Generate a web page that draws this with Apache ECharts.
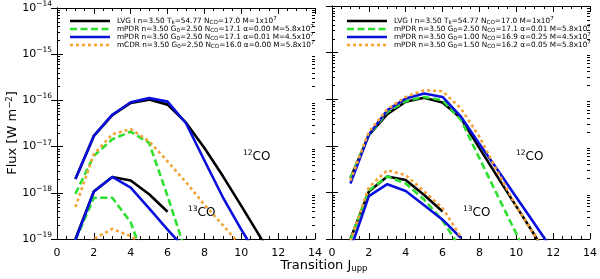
<!DOCTYPE html>
<html><head><meta charset="utf-8">
<script src="https://cdn.jsdelivr.net/npm/echarts@6/dist/echarts.min.js"></script>
<style>html,body{margin:0;padding:0;background:#fff}#c{width:600px;height:279px}</style>
</head><body><div id="c"></div>
<script>
// ---- data ----
const J = [1,2,3,4,5,6,7,8,9,10,11,12];
const xTicks = [0,2,4,6,8,10,12,14];
const yTickExp = [-19,-18,-17,-16,-15,-14];

// left panel, 12CO
const L_lvg12  = [2.0e-18,1.7e-17,4.8e-17,8.8e-17,1.04e-16,8.1e-17,3.3e-17,9.3e-18,2.3e-18,5.2e-19,1.15e-19,2.5e-20];
const L_pdr0_12= [9.5e-19,6.3e-18,1.44e-17,2.1e-17,1.2e-17,8.5e-19,5.0e-20];
const L_pdr1_12= [2.0e-18,1.7e-17,4.9e-17,9.1e-17,1.12e-16,9.4e-17,3.2e-17,5.0e-18,8.0e-19,1.6e-19,3.6e-20];
const L_cdr12  = [4.9e-19,6.9e-18,1.85e-17,2.4e-17,1.3e-17,4.8e-18,1.7e-18,5.5e-19,2.0e-19,7.0e-20];
// left panel, 13CO
const L_lvg13  = [1.0e-19,1.07e-18,2.2e-18,1.85e-18,9.3e-19,3.9e-19];
const L_pdr0_13= [9.5e-20,7.8e-19,7.8e-19,2.3e-19,1.8e-20];
const L_pdr1_13= [9.5e-20,1.07e-18,2.2e-18,1.3e-18,4.6e-19,1.6e-19,5.8e-20];
const L_cdr13  = [5.0e-20,1.0e-19,1.65e-19,1.15e-19,6.5e-20];

// right panel, 12CO
const R_lvg12  = [2.0e-18,1.7e-17,4.8e-17,8.8e-17,1.07e-16,8.5e-17,3.9e-17,8.9e-18,2.1e-18,5.0e-19,1.2e-19,2.5e-20];
const R_pdrA_12= [2.0e-18,1.7e-17,5.3e-17,9.1e-17,1.12e-16,9.5e-17,3.6e-17,5.4e-18,8.3e-19,1.3e-19,2.0e-20];
const R_pdrB_12= [1.55e-18,1.74e-17,5.8e-17,1.03e-16,1.32e-16,1.12e-16,4.2e-17,1.1e-17,3.0e-18,7.9e-19,2.1e-19,5.5e-20];
const R_pdrC_12= [1.8e-18,2.0e-17,6.1e-17,1.12e-16,1.56e-16,1.48e-16,6.3e-17,1.56e-17,2.7e-18,5.0e-19,1.2e-19,2.5e-20];
// right panel, 13CO
const R_lvg13  = [1.0e-19,1.05e-18,2.2e-18,1.85e-18,8.8e-19,3.9e-19];
const R_pdrA_13= [9.5e-20,1.1e-18,2.2e-18,1.55e-18,7.0e-19,2.5e-19,6.0e-20];
const R_pdrB_13= [6.0e-20,8.3e-19,1.5e-18,1.07e-18,5.3e-19,2.6e-19,1.05e-19];
const R_pdrC_13= [9.0e-20,1.3e-18,3.0e-18,2.35e-18,1.05e-18,4.6e-19,1.1e-19];

const leftLegend = [
  'LVG I n=3.50 T{sb|k}=54.77 N{sb|CO}=17.0 M=1x10{sp|7}',
  'mPDR n=3.50 G{sb|0}=2.50 N{sb|CO}=17.1 α=0.00 M=5.8x10{sp|7}',
  'mPDR n=3.50 G{sb|0}=2.50 N{sb|CO}=17.1 α=0.01 M=4.5x10{sp|7}',
  'mCDR n=3.50 G{sb|0}=2.50 N{sb|CO}=16.0 α=0.00 M=5.8x10{sp|7}'
];
const rightLegend = [
  'LVG I n=3.50 T{sb|k}=54.77 N{sb|CO}=17.0 M=1x10{sp|7}',
  'mPDR n=3.50 G{sb|0}=2.50 N{sb|CO}=17.1 α=0.01 M=5.8x10{sp|7}',
  'mPDR n=3.50 G{sb|0}=1.00 N{sb|CO}=16.9 α=0.25 M=4.5x10{sp|7}',
  'mPDR n=3.50 G{sb|0}=1.50 N{sb|CO}=16.2 α=0.05 M=5.8x10{sp|7}'
];

// ---- styles ----
const FONT = 'DejaVu Sans, Verdana, sans-serif';
const styles = [
  {color:'#000000', type:'solid'},
  {color:'#2ee02e', type:[7,3.5]},
  {color:'#0a10dc', type:'solid'},
  {color:'#f5a236', type:[3,3]}
];
const LW = 2.6;

const minorVals = [];
for (let e=-19; e<-14; e++) for (let m=2; m<=9; m++) minorVals.push(m*Math.pow(10,e));

function pairs(arr){ return arr.map((v,i)=>[J[i], v]); }
function lineSeries(arr, st, gi){
  return {type:'line', xAxisIndex:gi*2, yAxisIndex:gi*2, data:pairs(arr), symbol:'none',
    clip:true, silent:true, animation:false,
    lineStyle:{color:st.color, width:LW, type:st.type, cap:'butt', join:'round'}};
}
function minorSeries(gi){
  return {type:'custom', xAxisIndex:gi*2, yAxisIndex:gi*2, data:minorVals.map(v=>[0,v]), silent:true, clip:false,
    animation:false,
    renderItem:function(params, api){
      const v = api.value(1);
      const a = api.coord([0, v]), b = api.coord([14, v]);
      const y = Math.round(a[1])+0.5;
      return {type:'group', children:[
        {type:'line', shape:{x1:a[0], y1:y, x2:a[0]+3, y2:y}, style:{stroke:'#000', lineWidth:1}},
        {type:'line', shape:{x1:b[0]-3, y1:y, x2:b[0], y2:y}, style:{stroke:'#000', lineWidth:1}}
      ]};
    }};
}

const grids = [
  {left:57, top:6, width:258, height:233},
  {left:332, top:6, width:260, height:233}
];
const xAxes = [], yAxes = [];
[0,1].forEach(gi=>{
  const base = {type:'value', gridIndex:gi, min:0, max:14, interval:2,
    axisLine:{show:true, onZero:false, lineStyle:{color:'#000', width:1}},
    axisTick:{show:true, inside:true, length:6, lineStyle:{color:'#000'}},
    minorTick:{show:true, splitNumber:4, length:3, lineStyle:{color:'#000'}},
    splitLine:{show:false}};
  xAxes.push(Object.assign({}, base, {position:'bottom',
    axisLabel:{show:true, color:'#000', fontSize:11, fontFamily:FONT, margin:9,
      formatter:function(v){ return xTicks.indexOf(v)>=0 ? String(v) : ''; }}}));
  xAxes.push(Object.assign({}, base, {position:'top', axisLabel:{show:false}}));
  const ybase = {type:'log', logBase:10, gridIndex:gi, min:1e-19, max:1e-14,
    axisLine:{show:true, lineStyle:{color:'#000', width:1}},
    axisTick:{show:true, inside:true, length:6, lineStyle:{color:'#000'}},
    minorTick:{show:false}, splitLine:{show:false}};
  yAxes.push(Object.assign({}, ybase, {position:'left',
    axisLabel:{show: gi===0, color:'#000', fontSize:11, fontFamily:FONT, margin:5,
      formatter:function(v){ const e=Math.round(Math.log10(v)); return yTickExp.indexOf(e)>=0 ? '10{sp|−'+Math.abs(e)+'}' : ''; },
      rich:{sp:{fontSize:7.5, fontFamily:FONT, color:'#000', verticalAlign:'top', padding:[0,0,8,0]}}}}));
  yAxes.push(Object.assign({}, ybase, {position:'right', axisLabel:{show:false}}));
});

const series = [
  lineSeries(L_lvg12, styles[0], 0), lineSeries(L_lvg13, styles[0], 0),
  lineSeries(L_pdr0_12, styles[1], 0), lineSeries(L_pdr0_13, styles[1], 0),
  lineSeries(L_pdr1_12, styles[2], 0), lineSeries(L_pdr1_13, styles[2], 0),
  lineSeries(L_cdr12, styles[3], 0), lineSeries(L_cdr13, styles[3], 0),
  lineSeries(R_lvg12, styles[0], 1), lineSeries(R_lvg13, styles[0], 1),
  lineSeries(R_pdrA_12, styles[1], 1), lineSeries(R_pdrA_13, styles[1], 1),
  lineSeries(R_pdrB_12, styles[2], 1), lineSeries(R_pdrB_13, styles[2], 1),
  lineSeries(R_pdrC_12, styles[3], 1), lineSeries(R_pdrC_13, styles[3], 1),
  minorSeries(0), minorSeries(1)
];

const richLegend = {
  sb:{fontSize:5.6, fontFamily:FONT, color:'#000', verticalAlign:'bottom', padding:[3,0,0,0]},
  sp:{fontSize:5.6, fontFamily:FONT, color:'#000', verticalAlign:'top', padding:[0,0,4,0]}
};
const graphics = [];
function addLegend(x0, texts){
  const rows = [21,29,37,45];
  rows.forEach((y,i)=>{
    graphics.push({type:'line', silent:true, shape:{x1:x0, y1:y, x2:x0+40, y2:y},
      style:{stroke:styles[i].color, lineWidth:LW, lineDash: styles[i].type==='solid'?null:styles[i].type}});
    graphics.push({type:'text', silent:true, x:x0+47, y:y, style:{text:texts[i], fontSize:7.3, fontFamily:FONT, fill:'#000',
      verticalAlign:'middle', align:'left', rich:richLegend}});
  });
}
addLegend(70, leftLegend);
addLegend(347, rightLegend);

const richLbl = {sp:{fontSize:7.5, fontFamily:FONT, fill:'#000', verticalAlign:'top', padding:[0,0,7,0]}};
function isoLabel(x, y, txt){
  graphics.push({type:'text', silent:true, x:x, y:y, style:{text:txt, fontSize:12, fontFamily:FONT, fill:'#000',
    verticalAlign:'middle', align:'left', rich:richLbl}});
}
isoLabel(243, 157, '{sp|12}CO');
isoLabel(188, 213, '{sp|13}CO');
isoLabel(516, 157, '{sp|12}CO');
isoLabel(463, 213, '{sp|13}CO');

graphics.push({type:'text', silent:true, x:324, y:266, style:{text:'Transition J{sb|upp}', fontSize:13, fontFamily:FONT, fill:'#000',
  align:'center', verticalAlign:'middle', rich:{sb:{fontSize:8.5, fontFamily:FONT, verticalAlign:'bottom', padding:[5,0,0,0]}}}});
graphics.push({type:'text', silent:true, x:13, y:133, rotation:Math.PI/2, style:{text:'Flux [W m{sp|−2}]', fontSize:13, fontFamily:FONT, fill:'#000',
  align:'center', verticalAlign:'middle', rich:{sp:{fontSize:8.5, fontFamily:FONT, verticalAlign:'top', padding:[0,0,7,0]}}}});

const chart = echarts.init(document.getElementById('c'), null, {renderer:'canvas'});
chart.setOption({animation:false, backgroundColor:'#fff', grid:grids, xAxis:xAxes, yAxis:yAxes, series:series, graphic:graphics});
</script></body></html>
